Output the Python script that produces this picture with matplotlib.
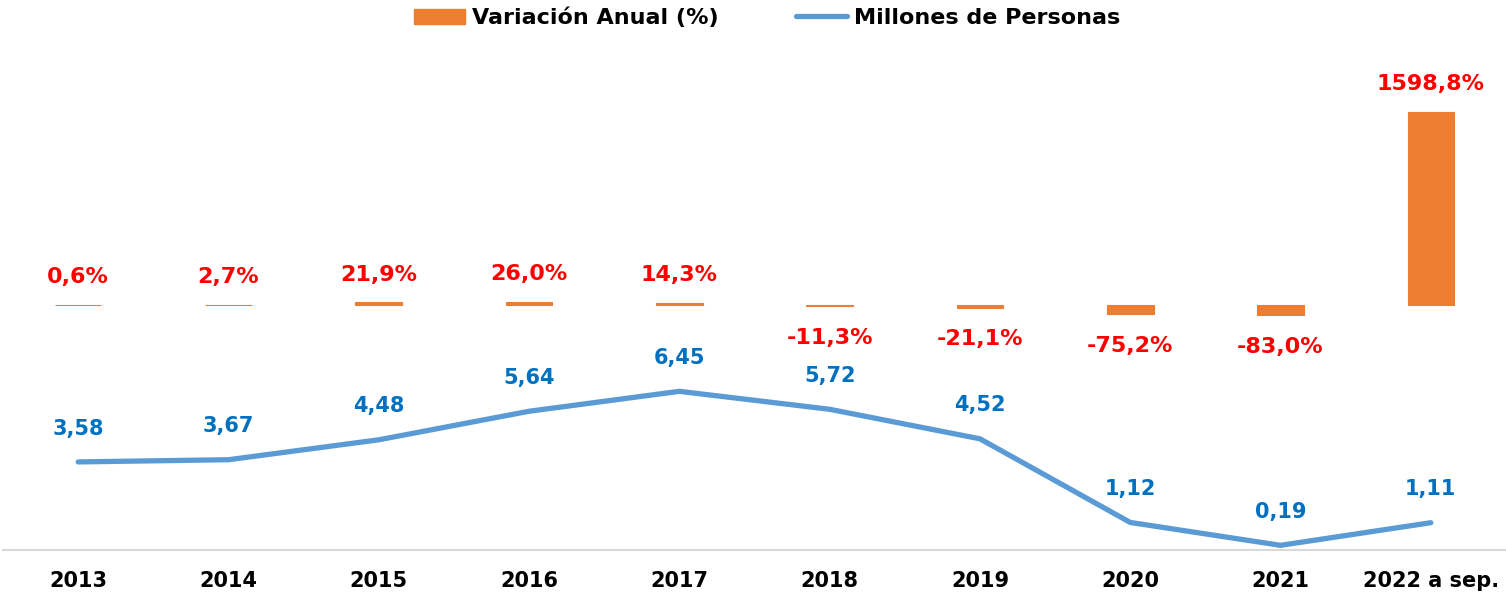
import matplotlib
matplotlib.use("Agg")
import matplotlib.pyplot as plt
from matplotlib.lines import Line2D
from matplotlib.patches import Patch

categories = ["2013", "2014", "2015", "2016", "2017", "2018", "2019", "2020", "2021", "2022 a sep."]
variacion = [0.6, 2.7, 21.9, 26.0, 14.3, -11.3, -21.1, -75.2, -83.0, 1598.8]
millones = [3.58, 3.67, 4.48, 5.64, 6.45, 5.72, 4.52, 1.12, 0.19, 1.11]

ORANGE = "#ED7D31"
LINEBLUE = "#5B9BD5"
LABELBLUE = "#0070C0"
RED = "#FF0000"

plt.rcParams["font.family"] = ["DejaVu Sans"]
plt.rcParams["font.weight"] = "bold"

fig = plt.figure(figsize=(15.06, 5.98), dpi=100)
W, H = 1506, 598
ax_left, ax_right = 3, 1506
ax_top, ax_bottom = 40, 550
ax = fig.add_axes([ax_left / W, 1 - ax_bottom / H, (ax_right - ax_left) / W, (ax_bottom - ax_top) / H])
ax2 = ax.twinx()

x = list(range(len(categories)))
ax_h_px = ax_bottom - ax_top

# line axis: 0 at bottom, 24.6 px per unit
line_scale = 24.6
ax.set_ylim(0, ax_h_px / line_scale)
# bar axis: zero at y=305 px
bar_scale = 193 / 1598.8
zero_px = 305
ax2.set_ylim(-(ax_bottom - zero_px) / bar_scale, (zero_px - ax_top) / bar_scale)
ax.set_xlim(-0.5, len(categories) - 0.5)

ax2.bar(x, variacion, width=0.31, color=ORANGE, edgecolor=ORANGE, linewidth=0.8, zorder=2)
ax.plot(x, millones, color=LINEBLUE, linewidth=3.8, solid_capstyle="round", zorder=3)

ax.set_zorder(ax2.get_zorder() + 1)
ax.patch.set_visible(False)

for xi, v in zip(x, variacion):
    txt = f"{v:.1f}%".replace(".", ",")
    if v >= 0:
        ax2.annotate(txt, (xi, v), xytext=(0, 20), textcoords="offset points",
                     ha="center", va="center", color=RED, fontsize=16, fontweight="bold")
    else:
        ax2.annotate(txt, (xi, v), xytext=(0, -23), textcoords="offset points",
                     ha="center", va="center", color=RED, fontsize=16, fontweight="bold")

for xi, v in zip(x, millones):
    txt = f"{v:.2f}".replace(".", ",")
    ax.annotate(txt, (xi, v), xytext=(0, 24), textcoords="offset points",
                ha="center", va="center", color=LABELBLUE, fontsize=15, fontweight="bold")

for a in (ax, ax2):
    for s in ("top", "right", "left"):
        a.spines[s].set_visible(False)
    a.set_yticks([])
ax2.spines["bottom"].set_visible(False)
ax.spines["bottom"].set_color("#D9D9D9")
ax.spines["bottom"].set_linewidth(1.5)

ax.set_xticks(x)
ax.set_xticklabels(categories, fontsize=15, fontweight="bold", color="black")
ax.tick_params(axis="x", length=0, pad=15)

handles = [Patch(facecolor=ORANGE, edgecolor=ORANGE),
           Line2D([0], [0], color=LINEBLUE, linewidth=3.8, solid_capstyle="round")]
labels = ["Variación Anual (%)", "Millones de Personas"]
fig.legend(handles, labels, loc="center", bbox_to_anchor=(767 / W, 1 - 18 / H), ncol=2,
           frameon=False, prop={"weight": "bold", "size": 16},
           handlelength=2.3, handleheight=0.7, handletextpad=0.3, columnspacing=3.5)

fig.savefig("out.png", dpi=100)
